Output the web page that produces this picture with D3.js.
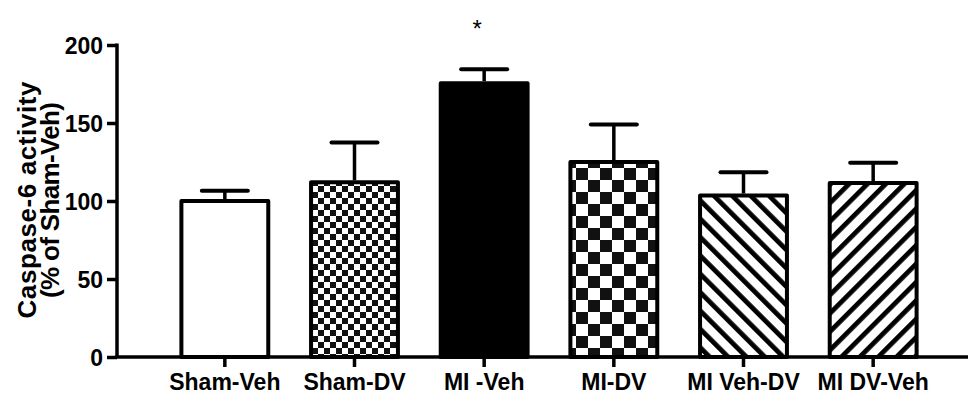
<!DOCTYPE html>
<html>
<head>
<meta charset="utf-8">
<script src="https://cdn.jsdelivr.net/npm/d3@7"></script>
<style>
  body { margin: 0; background: #fff; }
  svg text { font-family: "Liberation Sans", Arial, Helvetica, sans-serif; }
</style>
</head>
<body>
<div id="chart"></div>
<script>
var width = 968;
var height = 395;

// values
var groups = ["Sham-Veh", "Sham-DV", "MI -Veh", "MI-DV", "MI Veh-DV", "MI DV-Veh"];
var means = [100, 112, 175.5, 125, 103.5, 111.5];
var sems = [6.5, 25.5, 9, 24, 15, 13];
var yTicks = [0, 50, 100, 150, 200];
var starred = ["MI -Veh"];

// fill for each bar, in order
var fills = ["#fff", "url(#checkFine)", "#000", "url(#checkCoarse)", "url(#stripeBack)", "url(#stripeFwd)"];

var svg = d3.select("#chart").append("svg")
  .attr("width", width)
  .attr("height", height);

var defs = svg.append("defs");

var checker = function(id, size){
  var p = defs.append("pattern")
    .attr("id", id)
    .attr("patternUnits", "userSpaceOnUse")
    .attr("width", size * 2)
    .attr("height", size * 2);
  p.append("rect").attr("width", size * 2).attr("height", size * 2).attr("fill", "#fff");
  p.append("rect").attr("width", size).attr("height", size).attr("fill", "#111");
  p.append("rect").attr("x", size).attr("y", size).attr("width", size).attr("height", size).attr("fill", "#111");
};
checker("checkFine", 6);
checker("checkCoarse", 12);

var stripes = function(id, angle){
  var p = defs.append("pattern")
    .attr("id", id)
    .attr("patternUnits", "userSpaceOnUse")
    .attr("width", 13)
    .attr("height", 13)
    .attr("patternTransform", "rotate(" + angle + ")");
  p.append("rect").attr("width", 13).attr("height", 13).attr("fill", "#fff");
  p.append("rect").attr("width", 4.8).attr("height", 13).attr("fill", "#000");
};
stripes("stripeBack", -45);
stripes("stripeFwd", 45);

var axisX = 117;
var y = d3.scaleLinear().domain([0, 200]).range([357, 45]);
var x = d3.scaleBand().domain(groups).range([160, 938]).paddingInner(0.33).paddingOuter(0.165);

// bars
svg.selectAll("rect.bar")
  .data(groups)
  .enter()
  .append("rect")
  .attr("class", "bar")
  .attr("x", function(d){ return x(d); })
  .attr("y", function(d, i){ return y(means[i]); })
  .attr("width", x.bandwidth())
  .attr("height", function(d, i){ return y(0) - y(means[i]); })
  .attr("fill", function(d, i){ return fills[i]; })
  .attr("stroke", "#000")
  .attr("stroke-width", 4)
  .attr("stroke-linejoin", "round");

// error bars (upper only)
var err = svg.selectAll("g.err")
  .data(groups)
  .enter()
  .append("g")
  .attr("class", "err")
  .attr("transform", function(d){ return "translate(" + (x(d) + x.bandwidth()/2) + ",0)"; });
err.append("line")
  .attr("y1", function(d, i){ return y(means[i]) - 2; })
  .attr("y2", function(d, i){ return y(means[i] + sems[i]); })
  .attr("stroke", "#000").attr("stroke-width", 3.5);
err.append("line")
  .attr("x1", -23).attr("x2", 23)
  .attr("y1", function(d, i){ return y(means[i] + sems[i]); })
  .attr("y2", function(d, i){ return y(means[i] + sems[i]); })
  .attr("stroke", "#000").attr("stroke-width", 4).attr("stroke-linecap", "round");

// significance
svg.selectAll("text.star")
  .data(starred)
  .enter()
  .append("text")
  .attr("class", "star")
  .attr("x", function(d){ return x(d) + x.bandwidth()/2 - 7; })
  .attr("y", 37)
  .attr("text-anchor", "middle")
  .style("font-size", "24px")
  .text("*");

// y axis
var yAxis = svg.append("g")
  .attr("transform", "translate(" + axisX + ",0)")
  .call(d3.axisLeft(y).tickValues(yTicks).tickSize(10).tickPadding(4));
yAxis.select(".domain").attr("d", "M0," + (y(200) - 1.5) + "V" + y(0)).attr("stroke-width", 3.5);
yAxis.selectAll(".tick line").attr("stroke-width", 3.5);
yAxis.selectAll(".tick text")
  .style("font-size", "23px").style("font-weight", "bold").attr("fill", "#000").attr("dy", "0.36em");

// x axis
var xAxis = svg.append("g")
  .attr("transform", "translate(0," + y(0) + ")")
  .call(d3.axisBottom(x).tickSize(10).tickPadding(6.5));
xAxis.select(".domain").attr("d", "M" + (axisX - 1.75) + ",0H" + width).attr("stroke-width", 3.5);
xAxis.selectAll(".tick line").attr("stroke-width", 3.5);
xAxis.selectAll(".tick text")
  .style("font-size", "23px").style("font-weight", "bold").attr("fill", "#000");

// y title
var title = svg.append("text")
  .attr("transform", "translate(0,200) rotate(-90)")
  .attr("text-anchor", "middle")
  .style("font-size", "26px")
  .style("font-weight", "bold");
title.append("tspan").attr("x", 0).attr("y", 35.5)
  .attr("textLength", 237).attr("lengthAdjust", "spacing")
  .text("Caspase-6 activity");
title.append("tspan").attr("x", 0).attr("y", 59)
  .attr("textLength", 196).attr("lengthAdjust", "spacing")
  .text("(% of Sham-Veh)");
</script>
</body>
</html>
